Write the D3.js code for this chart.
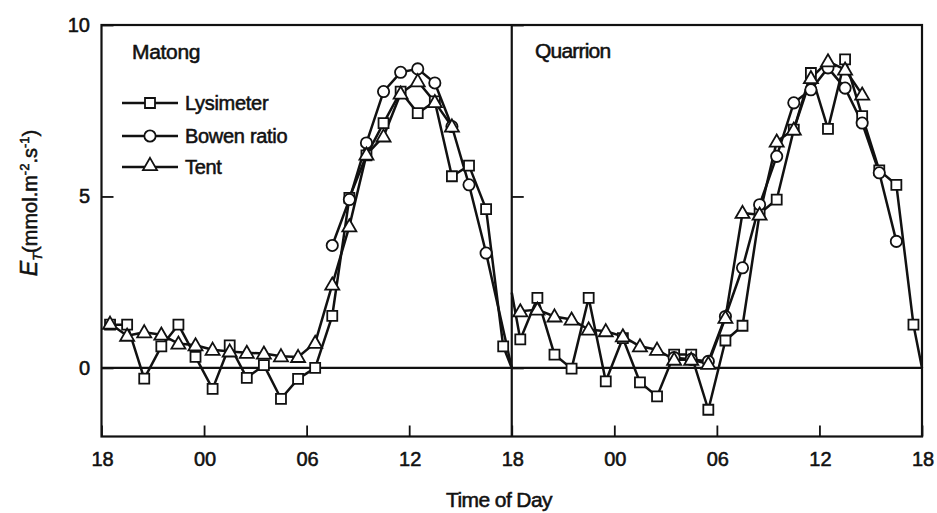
<!DOCTYPE html>
<html>
<head>
<meta charset="utf-8">
<script src="https://cdn.jsdelivr.net/npm/d3@7"></script>
<style>
  html, body { margin: 0; padding: 0; background: #fff; }
  svg { display: block; }
  text { font-family: "Liberation Sans", Arial, sans-serif; fill: #111; stroke: #111; stroke-width: 0.55px; }
</style>
</head>
<body>
<svg id="chart" width="937" height="513"></svg>
<script>
// Hours are counted from 18:00 on the first evening (0 = 18:00, 24 = next 18:00, 48 = the one after).
// Matong occupies the left 24 h window, Quarrion the right one.
const xTickValues = [0, 6, 12, 18, 24, 30, 36, 42, 48];
const xTickLabels = ["18", "00", "06", "12", "18", "00", "06", "12", "18"];
const yTickValues = [0, 5, 10];

const matongLysimeterHours = [0.5, 1.5, 2.5, 3.5, 4.5, 5.5, 6.5, 7.5, 8.5, 9.5, 10.5, 11.5, 12.5, 13.5, 14.5, 15.5, 16.5, 17.5, 18.5, 19.5, 20.5, 21.5, 22.5, 23.5, 24];
const matongLysimeter = [1.26, 1.26, -0.31, 0.63, 1.26, 0.32, -0.61, 0.66, -0.29, 0.08, -0.9, -0.32, 0.0, 1.52, 4.96, 6.2, 7.14, 8.06, 7.43, 7.77, 5.59, 5.9, 4.63, 0.63, 0];
const matongBowenHours = [13.5, 14.5, 15.5, 16.5, 17.5, 18.5, 19.5, 20.5, 21.5, 22.5, 24];
const matongBowen = [3.57, 4.91, 6.56, 8.06, 8.62, 8.72, 8.31, 7.04, 5.34, 3.35, 0];
const matongTentHours = [0.5, 1.5, 2.5, 3.5, 4.5, 5.5, 6.5, 7.5, 8.5, 9.5, 10.5, 11.5, 12.5, 13.5, 14.5, 15.5, 16.5, 17.5, 18.5, 19.5, 20.5];
const matongTent = [1.29, 0.94, 1.04, 0.97, 0.71, 0.66, 0.53, 0.48, 0.44, 0.42, 0.34, 0.32, 0.73, 2.43, 4.13, 6.22, 6.75, 8.0, 8.36, 7.75, 7.04];

const quarrionLysimeterHours = [24, 24.5, 25.5, 26.5, 27.5, 28.5, 29.5, 30.5, 31.5, 32.5, 33.5, 34.5, 35.5, 36.5, 37.5, 38.5, 39.5, 40.5, 41.5, 42.5, 43.5, 44.5, 45.5, 46.5, 47.5, 48];
const quarrionLysimeter = [2.2, 0.83, 2.04, 0.39, -0.02, 2.04, -0.39, 0.87, -0.42, -0.83, 0.39, 0.39, -1.22, 0.8, 1.23, 4.5, 4.91, 6.95, 8.6, 6.97, 9.0, 7.34, 5.76, 5.34, 1.26, 0];
const quarrionBowenHours = [33.5, 34.5, 35.5, 36.5, 37.5, 38.5, 39.5, 40.5, 41.5, 42.5, 43.5, 44.5, 45.5, 46.5];
const quarrionBowen = [0.3, 0.25, 0.19, 1.5, 2.92, 4.76, 6.17, 7.73, 8.11, 8.75, 8.16, 7.14, 5.69, 3.69];
const quarrionTentHours = [24.5, 25.5, 26.5, 27.5, 28.5, 29.5, 30.5, 31.5, 32.5, 33.5, 34.5, 35.5, 36.5, 37.5, 38.5, 39.5, 40.5, 41.5, 42.5, 43.5, 44.5];
const quarrionTent = [1.65, 1.7, 1.5, 1.41, 1.12, 1.07, 0.92, 0.63, 0.53, 0.24, 0.24, 0.12, 1.46, 4.52, 4.47, 6.6, 6.95, 8.45, 8.94, 8.7, 7.97];

const seriesNames = ["Lysimeter", "Bowen ratio", "Tent"];
const panelNames = ["Matong", "Quarrion"];

// ---- layout ----
const svg = d3.select("#chart");
const plotLeft = 101.5, plotRight = 922, plotTop = 25, plotBottom = 436.5;
const x = d3.scaleLinear().domain([0, 48]).range([plotLeft, plotRight]);
const y = d3.scaleLinear().domain([-2, 10]).range([plotBottom, plotTop]);

const ink = "#111";

// Marker shapes
const sym = {
  "Lysimeter": d3.symbol().type(d3.symbolSquare).size(100),
  "Bowen ratio": d3.symbol().type(d3.symbolCircle).size(100),
  "Tent": d3.symbol().type(d3.symbolTriangle).size(85)
};

const series = [
  { name: "Lysimeter", hours: matongLysimeterHours, values: matongLysimeter },
  { name: "Bowen ratio", hours: matongBowenHours, values: matongBowen },
  { name: "Tent", hours: matongTentHours, values: matongTent },
  { name: "Lysimeter", hours: quarrionLysimeterHours, values: quarrionLysimeter },
  { name: "Bowen ratio", hours: quarrionBowenHours, values: quarrionBowen },
  { name: "Tent", hours: quarrionTentHours, values: quarrionTent }
];

// zero reference line across both panels
svg.append("line")
  .attr("x1", x(0)).attr("x2", x(48))
  .attr("y1", y(0)).attr("y2", y(0))
  .attr("stroke", ink).attr("stroke-width", 2.2);

// series lines
const line = d3.line().x(d => x(d[0])).y(d => y(d[1]));
series.forEach(s => {
  const pts = s.hours.map((h, i) => [h, s.values[i]]);
  svg.append("path")
    .attr("d", line(pts))
    .attr("fill", "none")
    .attr("stroke", ink)
    .attr("stroke-width", 2.5)
    .attr("stroke-linejoin", "round");
});

// markers (points sitting on a panel edge only carry the line)
series.forEach(s => {
  const pts = s.hours.map((h, i) => [h, s.values[i]]).filter(d => d[0] % 24 !== 0);
  svg.append("g").selectAll("path")
    .data(pts)
    .join("path")
    .attr("d", sym[s.name])
    .attr("transform", d => `translate(${x(d[0])},${y(d[1]) + (s.name === "Tent" ? 1 : 0)})`)
    .attr("fill", "#fff")
    .attr("stroke", ink)
    .attr("stroke-width", 1.8);
});

// frame and panel divider
svg.append("rect")
  .attr("x", plotLeft).attr("y", plotTop)
  .attr("width", plotRight - plotLeft).attr("height", plotBottom - plotTop)
  .attr("fill", "none").attr("stroke", ink).attr("stroke-width", 2.2);
svg.append("line")
  .attr("x1", x(24)).attr("x2", x(24))
  .attr("y1", plotTop).attr("y2", plotBottom)
  .attr("stroke", ink).attr("stroke-width", 2.2);

// y axis (ticks point inward) on the left frame and on the divider
const yAxis = d3.axisRight(y).tickValues(yTickValues).tickSize(12).tickFormat("");
[x(0), x(24)].forEach(px => {
  const g = svg.append("g").attr("transform", `translate(${px},0)`).call(yAxis);
  g.select(".domain").remove();
  g.selectAll(".tick line").attr("stroke", ink).attr("stroke-width", 1.8);
});
svg.append("g").selectAll("text")
  .data(yTickValues)
  .join("text")
  .attr("x", 90).attr("y", d => y(d) + 7)
  .attr("text-anchor", "end")
  .attr("font-size", 20)
  .text(d => d);

// x axis (ticks point up into the plot)
const xAxis = d3.axisTop(x).tickValues(xTickValues).tickSize(11).tickFormat("");
const gx = svg.append("g").attr("transform", `translate(0,${plotBottom})`).call(xAxis);
gx.select(".domain").remove();
gx.selectAll(".tick line").attr("stroke", ink).attr("stroke-width", 1.8);
svg.append("g").selectAll("text")
  .data(xTickValues)
  .join("text")
  .attr("x", d => x(d) + 1)
  .attr("y", 466)
  .attr("text-anchor", "middle")
  .attr("font-size", 20)
  .text((d, i) => xTickLabels[i]);

// x axis title
svg.append("text")
  .attr("x", 499).attr("y", 507)
  .attr("text-anchor", "middle")
  .attr("font-size", 21)
  .attr("letter-spacing", -0.6)
  .text("Time of Day");

// y axis title
const yt = svg.append("text")
  .attr("transform", "translate(37,203) rotate(-90)")
  .attr("text-anchor", "middle")
  .attr("font-size", 20);
yt.append("tspan").attr("font-style", "italic").attr("font-size", 23).text("E");
yt.append("tspan").attr("font-style", "italic").attr("font-size", 13).attr("dy", 5).text("T");
yt.append("tspan").attr("dy", -5).text("(mmol.m");
yt.append("tspan").attr("font-size", 13).attr("dy", -8).text("-2");
yt.append("tspan").attr("dy", 8).text(".s");
yt.append("tspan").attr("font-size", 13).attr("dy", -8).text("-1");
yt.append("tspan").attr("dy", 8).text(")");

// panel names
svg.append("text").attr("x", 132).attr("y", 59).attr("font-size", 21).attr("letter-spacing", -0.3).text(panelNames[0]);
svg.append("text").attr("x", 535).attr("y", 58).attr("font-size", 21).attr("letter-spacing", -0.8).text(panelNames[1]);

// legend
const legendY = [103, 136, 167];
seriesNames.forEach((name, i) => {
  const g = svg.append("g").attr("transform", `translate(0,${legendY[i]})`);
  g.append("line").attr("x1", 122).attr("x2", 178).attr("y1", 0).attr("y2", 0)
    .attr("stroke", ink).attr("stroke-width", 2.5);
  g.append("path").attr("d", sym[name])
    .attr("transform", `translate(150,${name === "Tent" ? -1 : 0})`)
    .attr("fill", "#fff").attr("stroke", ink).attr("stroke-width", 1.8);
  g.append("text").attr("x", 185).attr("y", 7).attr("font-size", 20)
    .attr("letter-spacing", -0.3).text(name);
});
</script>
</body>
</html>
